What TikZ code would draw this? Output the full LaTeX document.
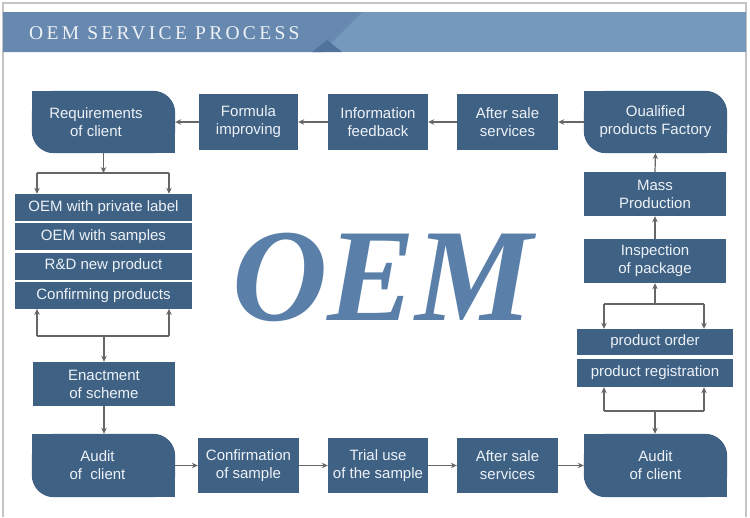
\documentclass[tikz,border=0pt]{standalone}
\usepackage{fontspec}
\setmainfont{Liberation Sans}
\newfontfamily\titlefont[LetterSpace=17]{Liberation Serif}
\newfontfamily\bigfont{Liberation Serif}
\usetikzlibrary{arrows.meta,backgrounds}
\definecolor{boxc}{HTML}{3E6184}
\definecolor{txtc}{HTML}{EEF2F7}
\definecolor{arrc}{HTML}{666666}
\definecolor{hdrdark}{HTML}{6789AF}
\definecolor{hdrlight}{HTML}{7599BD}
\definecolor{hdrtri}{HTML}{50739B}
\definecolor{oemc}{HTML}{5A80A9}
\definecolor{framec}{HTML}{C4C4C4}
\newcommand\leaffill[1]{%
  \fill[boxc,rounded corners=22pt] (#1.north west) rectangle (#1.south east);
  \fill[boxc] (#1.north west) rectangle ([shift={(22,22)}]#1.north west);
  \fill[boxc] (#1.south east) rectangle ([shift={(-22,-22)}]#1.south east);}
\begin{document}
\begin{tikzpicture}[x=1pt,y=-1pt,
  box/.style={fill=boxc,text=txtc,inner sep=0pt,align=center,
    font=\fontsize{15}{18}\selectfont},
  leafbox/.style={box,fill=none},
  lbl/.style={text=txtc,inner sep=0pt,align=center,font=\fontsize{15}{18}\selectfont},
  arr/.style={draw=arrc,line width=1.2pt,-{Stealth[length=6pt,width=5.5pt]}},
  ln/.style={draw=arrc,line width=1.2pt}]
\useasboundingbox (0,0) rectangle (750,517);
% frame
\draw[framec,line width=1.5pt] (3,517) -- (3,3) -- (746,3) -- (746,517);
% header band
\fill[hdrlight] (3,12) rectangle (746,52);
\fill[hdrdark] (3,12) -- (362,12) -- (322,52) -- (3,52) -- cycle;
\fill[hdrtri] (312,52) -- (327,40) -- (342,52) -- cycle;
\node[anchor=base west,inner sep=0pt,text=txtc] (title) at (29,39)
  {\titlefont\fontsize{19.5}{20}\selectfont OEM SERVICE PROCESS};
% big OEM
\node[anchor=base,inner sep=0pt,text=oemc] (oem) at (383,320)
  {\bigfont\bfseries\itshape\fontsize{132}{132}\selectfont OEM};
% top row
\node[leafbox,minimum width=143pt,minimum height=62pt] (req) at (103.5,122) {};
\node[lbl] (reqt) at (96,122) {Requirements\\of client};
\node[box,minimum width=99pt,minimum height=56pt] (form) at (248.5,122) {Formula\\improving};
\node[box,minimum width=100pt,minimum height=56pt] (info) at (378,122) {Information\\feedback};
\node[box,minimum width=101pt,minimum height=56pt] (as1) at (507.5,122) {After sale\\services};
\node[leafbox,minimum width=143pt,minimum height=62pt] (qual) at (655.5,122) {Oualified\\products Factory};
% left stack
\node[box,minimum width=177pt,minimum height=27pt] (s1) at (103.5,207.5) {OEM with private label};
\node[box,minimum width=177pt,minimum height=27pt] (s2) at (103.5,236.8) {OEM with samples};
\node[box,minimum width=177pt,minimum height=27pt] (s3) at (103.5,266) {R\&D new product};
\node[box,minimum width=177pt,minimum height=27pt] (s4) at (103.5,295.2) {Confirming products};
\node[box,minimum width=142pt,minimum height=44pt] (enact) at (104,384) {Enactment\\of scheme};
% bottom row
\node[leafbox,minimum width=143pt,minimum height=63pt] (audL) at (103.5,465.5) {};
\node[lbl] (audLt) at (97.5,465.5) {Audit\\of\ \ client};
\node[box,minimum width=101pt,minimum height=55pt] (conf) at (248.5,465.5) {Confirmation\\of sample};
\node[box,minimum width=100pt,minimum height=55pt] (trial) at (378,465.5) {Trial use\\of the sample};
\node[box,minimum width=101pt,minimum height=55pt] (as2) at (507.5,465.5) {After sale\\services};
\node[leafbox,minimum width=143pt,minimum height=63pt] (audR) at (655.5,465.5) {Audit\\of client};
% right column
\node[box,minimum width=142pt,minimum height=44pt] (mass) at (655,194) {Mass\\Production};
\node[box,minimum width=142pt,minimum height=44pt] (insp) at (655,261) {Inspection\\of package};
\node[box,minimum width=156pt,minimum height=26pt] (order) at (655,342) {product order};
\node[box,minimum width=156pt,minimum height=28pt] (reg) at (655,373) {product registration};
\begin{scope}[on background layer]
  \leaffill{req}\leaffill{qual}\leaffill{audL}\leaffill{audR}
\end{scope}
% top row arrows
\draw[arr] (form.west) -- (req.east);
\draw[arr] (info.west) -- (form.east);
\draw[arr] (as1.west) -- (info.east);
\draw[arr] (qual.west) -- (as1.east);
% left brackets
\coordinate (tl) at (37,173);
\coordinate (tr) at (169,173);
\draw[arr] (req.south) -- (req.south |- tl);
\draw[ln] (tl) -- (tr);
\draw[arr] (tl) -- (tl |- s1.north);
\draw[arr] (tr) -- (tr |- s1.north);
\coordinate (bl) at (37,336);
\coordinate (br) at (169,336);
\coordinate (bm) at (104,336);
\draw[ln] (bl) -- (br);
\draw[arr] (bl) -- (bl |- s4.south);
\draw[arr] (br) -- (br |- s4.south);
\draw[arr] (bm) -- (enact.north);
\draw[arr] (enact.south) -- (enact.south |- audL.north);
% bottom row arrows
\draw[arr] (audL.east) -- (conf.west);
\draw[arr] (conf.east) -- (trial.west);
\draw[arr] (trial.east) -- (as2.west);
\draw[arr] (as2.east) -- (audR.west);
% right column
\draw[arr] (mass.north) -- (qual.south);
\draw[arr] (insp.north) -- (mass.south);
\coordinate (rtl) at (604,304);
\coordinate (rtr) at (704,304);
\coordinate (rtm) at (655,304);
\draw[ln] (rtl) -- (rtr);
\draw[arr] (rtm) -- (insp.south);
\draw[arr] (rtl) -- (rtl |- order.north);
\draw[arr] (rtr) -- (rtr |- order.north);
\coordinate (rbl) at (604,411);
\coordinate (rbr) at (704,411);
\coordinate (rbm) at (655,411);
\draw[ln] (rbl) -- (rbr);
\draw[arr] (rbl) -- (rbl |- reg.south);
\draw[arr] (rbr) -- (rbr |- reg.south);
\draw[arr] (rbm) -- (rbm |- audR.north);
\end{tikzpicture}
\end{document}
